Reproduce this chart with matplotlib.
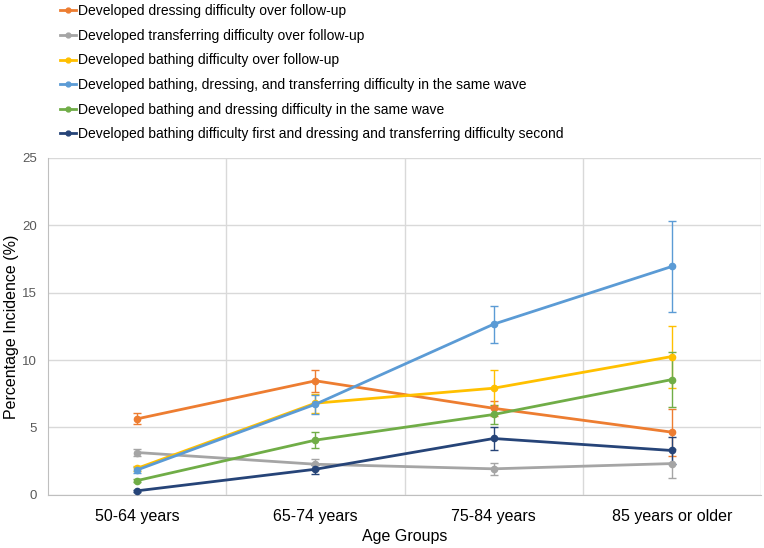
import matplotlib

matplotlib.use("Agg")
import matplotlib.pyplot as plt  # noqa: E402
import numpy as np  # noqa: E402
from matplotlib.lines import Line2D  # noqa: E402

plt.rcParams["font.family"] = ["Liberation Sans", "DejaVu Sans"]

# --- data ---
age_groups = ["50-64 years", "65-74 years", "75-84 years", "85 years or older"]

series_labels = [
    "Developed dressing difficulty over follow-up",
    "Developed transferring difficulty over follow-up",
    "Developed bathing difficulty over follow-up",
    "Developed bathing, dressing, and transferring difficulty in the same wave",
    "Developed bathing and dressing difficulty in the same wave",
    "Developed bathing difficulty first and dressing and transferring difficulty second",
]

dressing = [5.64, 8.46, 6.42, 4.65]
dressing_err = [0.4, 0.8, 0.55, 1.75]

transferring = [3.14, 2.27, 1.93, 2.32]
transferring_err = [0.25, 0.4, 0.45, 1.1]

bathing = [1.97, 6.80, 7.91, 10.26]
bathing_err = [0.2, 0.7, 1.33, 2.3]

all_three = [1.85, 6.72, 12.66, 16.94]
all_three_err = [0.2, 0.72, 1.38, 3.4]

bath_dress = [1.06, 4.06, 5.96, 8.55]
bath_dress_err = [0.12, 0.6, 0.72, 2.05]

bath_first = [0.30, 1.90, 4.18, 3.29]
bath_first_err = [0.06, 0.35, 0.88, 1.0]

colors = ["#ED7D31", "#A5A5A5", "#FFC000", "#5B9BD5", "#70AD47", "#264478"]

values = [dressing, transferring, bathing, all_three, bath_dress, bath_first]
errors = [dressing_err, transferring_err, bathing_err, all_three_err,
          bath_dress_err, bath_first_err]

fig = plt.figure(figsize=(7.64, 5.48), dpi=100)
ax = fig.add_axes([0.063, 0.097, 0.933, 0.615])

x = np.arange(len(age_groups))
handles = []
for vals, errs, col, lab in zip(values, errors, colors, series_labels):
    ax.errorbar(
        x, vals, yerr=errs, color=col, lw=2.0, marker="o", ms=4.5,
        elinewidth=1.0, capsize=3, capthick=1.0, zorder=3,
    )
    # legend shows plain line + marker, no error bars
    handles.append(Line2D([], [], color=col, lw=2.0, marker="o", ms=3.5))

ax.set_xlim(-0.5, 3.5)
ax.set_ylim(0, 25)
ax.set_yticks([0, 5, 10, 15, 20, 25])
ax.set_xticks(x)
ax.set_xticklabels(age_groups, fontsize=11.5)
ax.set_xticks([0.5, 1.5, 2.5, 3.5], minor=True)
ax.tick_params(axis="y", length=0, labelsize=9.5, labelcolor="#595959", pad=8)
ax.tick_params(axis="x", which="both", length=0, pad=10)
ax.grid(axis="y", color="#D9D9D9", lw=1.0, zorder=0)
ax.grid(axis="x", which="minor", color="#D9D9D9", lw=1.0, zorder=0)
ax.grid(axis="x", which="major", visible=False)

for side in ["top", "right"]:
    ax.spines[side].set_visible(False)
for side in ["left", "bottom"]:
    ax.spines[side].set_color("#BFBFBF")

ax.set_xlabel("Age Groups", fontsize=11.5, labelpad=4)
ax.set_ylabel("Percentage Incidence (%)", fontsize=11.5, labelpad=2)

fig.legend(
    handles=handles, labels=series_labels, loc="upper left",
    bbox_to_anchor=(0.062, 1.015), frameon=False, fontsize=10,
    handlelength=1.15, handletextpad=0.12, labelspacing=0.76,
)

fig.savefig("out.png", dpi=100)
